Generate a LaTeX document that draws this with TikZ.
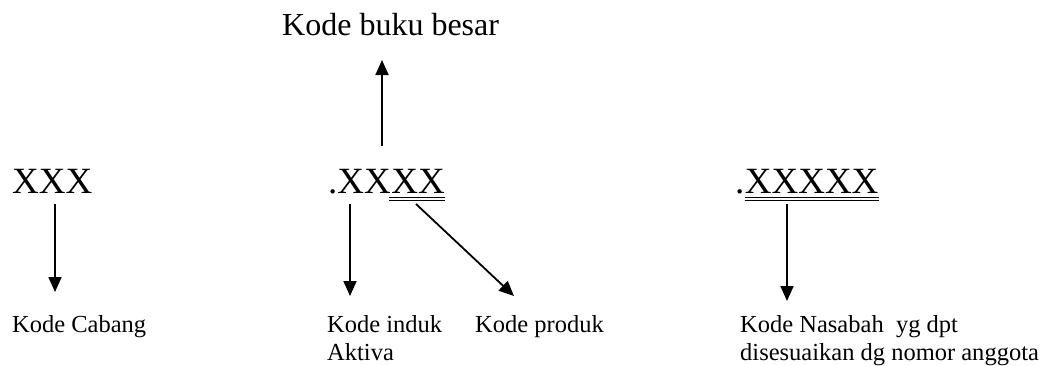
\documentclass[tikz,border=0pt]{standalone}
\usepackage{fontspec}
\setmainfont{Liberation Serif}
\usetikzlibrary{arrows.meta,calc}
\tikzset{
  codetext/.style={inner sep=0pt,anchor=base west,font=\fontsize{37}{40}\selectfont},
  titletext/.style={inner sep=0pt,anchor=base west,font=\fontsize{32}{36}\selectfont},
  labeltext/.style={inner sep=0pt,anchor=base west,align=left,font=\fontsize{24.5}{28}\selectfont},
  arr/.style={line width=1.8pt,-{Triangle[width=13pt,length=15pt]}},
  uline/.style={line width=1.3pt}
}
\begin{document}
\begin{tikzpicture}[x=1pt,y=-1pt]
\useasboundingbox (0,0) rectangle (1041,365);
% title
\node[titletext] (title) at (282,35) {Kode buku besar};
% codes
\node[codetext] (c1) at (12,193) {XXX};
\node[codetext] (c2a) at (328,193) {.XX};
\node[codetext] (c2b) at (c2a.base east) {XX};
\node[codetext] (c3a) at (735,193) {.};
\node[codetext] (c3b) at (c3a.base east) {XXXXX};
% underlines
\draw[uline] ($(c2b.south west)+(-2,4)$) -- ($(c2b.south east)+(0,4)$);
\draw[uline] ($(c2b.south west)+(-2,7.5)$) -- ($(c2b.south east)+(0,7.5)$);
\draw[uline] ($(c3b.south west)+(0,4)$) -- ($(c3b.south east)+(0,4)$);
\draw[uline] ($(c3b.south west)+(0,7.5)$) -- ($(c3b.south east)+(0,7.5)$);
% labels (multi-line nodes: base = last line)
\node[labeltext] (l1) at (12,332) {Kode Cabang};
\node[labeltext] (l2) at (327,360) {Kode induk\\Aktiva};
\node[labeltext] (l3) at (475,332) {Kode produk};
\node[labeltext] (l4) at (740,360) {Kode Nasabah\ \ yg dpt\\disesuaikan dg nomor anggota};
% arrow coordinates
\coordinate (u0) at (382,146);
\coordinate (u1) at (382,60);
\coordinate (a0) at (55,204);
\coordinate (a1) at (55,292);
\coordinate (b0) at (350,204);
\coordinate (b1) at (350,296);
\coordinate (d0) at (416,204);
\coordinate (d1) at (514,296);
\coordinate (e0) at (787,204);
\coordinate (e1) at (787,301);
\draw[arr] (u0) -- (u1);
\draw[arr] (a0) -- (a1);
\draw[arr] (b0) -- (b1);
\draw[arr] (d0) -- (d1);
\draw[arr] (e0) -- (e1);
\end{tikzpicture}
\end{document}
